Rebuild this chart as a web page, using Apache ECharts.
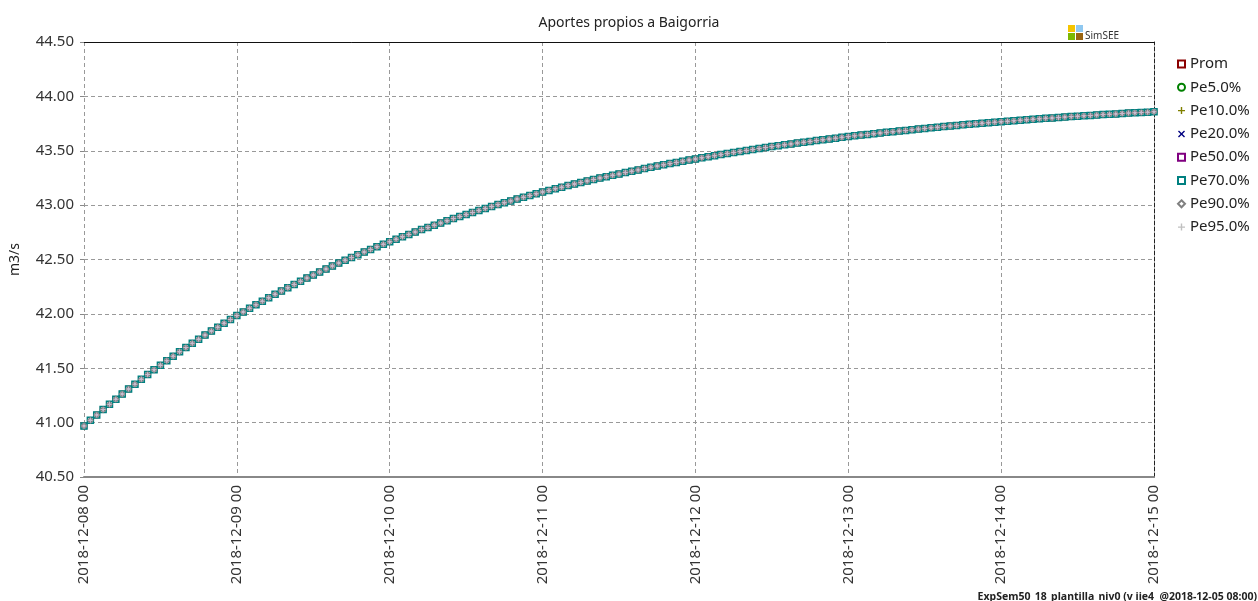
<!DOCTYPE html>
<html><head><meta charset="utf-8">
<script src="https://cdn.jsdelivr.net/npm/echarts@6/dist/echarts.min.js"></script>
<style>html,body{margin:0;padding:0;background:#fff}#c{width:1258px;height:601px}</style>
</head><body><div id="c"></div>
<script>
const chartTitle = 'Aportes propios a Baigorria';
const yAxisName = 'm3/s';
const footerText = 'ExpSem50_18_plantilla_niv0 (v iie4  @2018-12-05 08:00)';
const xTickLabels = ['2018-12-08 00','2018-12-09 00','2018-12-10 00','2018-12-11 00','2018-12-12 00','2018-12-13 00','2018-12-14 00','2018-12-15 00'];
const yTicks = [40.5, 41.0, 41.5, 42.0, 42.5, 43.0, 43.5, 44.0, 44.5];
const seriesNames = ['Prom','Pe5.0%','Pe10.0%','Pe20.0%','Pe50.0%','Pe70.0%','Pe90.0%','Pe95.0%'];
// hourly values (m3/s), 2018-12-08 00 .. 2018-12-15 00
const prom = [
40.970,41.021,41.071,41.120,41.168,41.216,
41.263,41.309,41.354,41.399,41.443,41.486,
41.528,41.570,41.611,41.651,41.690,41.729,
41.767,41.805,41.842,41.878,41.914,41.949,
41.984,42.018,42.052,42.085,42.117,42.149,
42.180,42.211,42.241,42.271,42.300,42.329,
42.358,42.386,42.413,42.440,42.467,42.493,
42.519,42.544,42.569,42.593,42.617,42.641,
42.664,42.687,42.709,42.731,42.753,42.775,
42.795,42.816,42.836,42.856,42.876,42.895,
42.914,42.933,42.951,42.969,42.987,43.005,
43.022,43.039,43.056,43.072,43.088,43.104,
43.120,43.135,43.150,43.165,43.180,43.194,
43.208,43.222,43.236,43.249,43.262,43.275,
43.287,43.300,43.312,43.324,43.336,43.348,
43.360,43.371,43.382,43.393,43.404,43.415,
43.425,43.435,43.445,43.455,43.465,43.475,
43.484,43.493,43.502,43.511,43.520,43.529,
43.538,43.546,43.555,43.563,43.571,43.579,
43.586,43.594,43.601,43.608,43.616,43.623,
43.630,43.637,43.644,43.650,43.657,43.663,
43.669,43.675,43.681,43.687,43.693,43.699,
43.705,43.711,43.716,43.722,43.727,43.732,
43.738,43.743,43.748,43.753,43.758,43.763,
43.767,43.772,43.776,43.781,43.785,43.789,
43.794,43.798,43.802,43.806,43.810,43.814,
43.818,43.822,43.825,43.829,43.833,43.836,
43.839,43.842,43.846,43.849,43.852,43.855,
43.859];
// all percentiles coincide with the mean in the picture
const pe5 = prom, pe10 = prom, pe20 = prom, pe50 = prom, pe70 = prom, pe90 = prom, pe95 = prom;
const seriesValues = [prom, pe5, pe10, pe20, pe50, pe70, pe90, pe95];

const PLUS = 'path://M4,0h2v4h4v2h-4v4h-2v-4h-4v-2h4z';
const CROSS = 'path://M1.4,0L5,3.6L8.6,0L10,1.4L6.4,5L10,8.6L8.6,10L5,6.4L1.4,10L0,8.6L3.6,5L0,1.4z';
const styles = [
  {color:'#8b0000', symbol:'rect', hollow:true, size:5},
  {color:'#008000', symbol:'circle', hollow:true, size:5},
  {color:'#808000', symbol:PLUS, hollow:false, size:6},
  {color:'#000080', symbol:CROSS, hollow:false, size:5},
  {color:'#800080', symbol:'rect', hollow:true, size:4},
  {color:'#008080', symbol:'rect', hollow:true, size:6},
  {color:'#808080', symbol:'diamond', hollow:true, size:5},
  {color:'#c8b8d0', symbol:PLUS, hollow:false, size:5}
];
const FONT = 'Noto Sans';

const series = seriesNames.map((name, k) => {
  const s = styles[k];
  return {
    name, type:'line',
    data: seriesValues[k].map((v, i) => [i, v]),
    symbol: s.symbol, symbolSize: s.size, showSymbol: true,
    lineStyle: {width: k === 5 ? 2 : 0, color: s.color},
    itemStyle: s.hollow ? {color:'#e0e8ec', borderColor:s.color, borderWidth:1.5} : {color:s.color, borderWidth:0},
    emphasis: {disabled:true},
    animation: false,
    xAxisIndex: 0, yAxisIndex: 0
  };
});

const legendColors = ['#8b0000','#008000','#808000','#000080','#800080','#008080','#808080','#c0c0c0'];

const chart = echarts.init(document.getElementById('c'), null, {renderer:'canvas'});
chart.setOption({
  animation:false,
  backgroundColor:'#ffffff',
  title:{text:chartTitle, left:'center', top:11, textStyle:{fontFamily:FONT, fontSize:14, fontWeight:'normal', color:'#222'}},
  grid:{left:84, right:104, top:42, bottom:124, containLabel:false},
  legend:{
    orient:'vertical', left:1172, top:50, itemWidth:7, itemHeight:7, itemGap:5.3,
    textStyle:{fontFamily:FONT, fontSize:15, color:'#222', lineHeight:18},
    data: seriesNames.map((name, k) => {
      const s = styles[k];
      const c = legendColors[k];
      return {name, icon: s.symbol,
        itemStyle: s.hollow ? {color:'#ffffff', borderColor:c, borderWidth:2} : {color:c, borderWidth:0}};
    })
  },
  xAxis:[{
    type:'value', min:0, max:168, interval:24,
    axisLine:{show:true, onZero:false, lineStyle:{color:'#888', width:2}},
    axisTick:{show:false},
    axisLabel:{rotate:90, margin:8, fontFamily:FONT, fontSize:15, color:'#333',
      formatter:(v)=> xTickLabels[Math.round(v/24)]},
    splitLine:{show:true, showMinLine:true, showMaxLine:false, lineStyle:{color:'#999', type:[4,3], width:1}}
  },{
    type:'value', min:0, max:168, position:'top',
    axisLine:{show:true, onZero:false, lineStyle:{color:'#111', width:1}},
    axisTick:{show:false}, axisLabel:{show:false}, splitLine:{show:false}
  }],
  yAxis:[{
    type:'value', min:yTicks[0], max:yTicks[yTicks.length-1], interval:0.5,
    name:yAxisName, nameLocation:'middle', nameGap:62, nameRotate:90,
    nameTextStyle:{fontFamily:FONT, fontSize:14, color:'#222'},
    axisLine:{show:false, onZero:false},
    axisTick:{show:true, length:4, lineStyle:{color:'#888'}},
    axisLabel:{fontFamily:FONT, fontSize:15, color:'#333', margin:10, formatter:(v)=>v.toFixed(2)},
    splitLine:{show:true, lineStyle:{color:'#999', type:[4,3], width:1}}
  },{
    type:'value', min:yTicks[0], max:yTicks[yTicks.length-1], position:'right',
    axisLine:{show:true, onZero:false, lineStyle:{color:'#222', width:1, type:[4,2]}},
    axisTick:{show:false}, axisLabel:{show:false}, splitLine:{show:false}
  }],
  series,
  graphic:[
    {type:'rect', left:1068, top:25, shape:{width:7, height:7}, style:{fill:'#f5c400'}, silent:true},
    {type:'rect', left:1076, top:25, shape:{width:7, height:7}, style:{fill:'#8fc8f0'}, silent:true},
    {type:'rect', left:1068, top:33, shape:{width:7, height:7}, style:{fill:'#7cb800'}, silent:true},
    {type:'rect', left:1076, top:33, shape:{width:7, height:7}, style:{fill:'#9a6410'}, silent:true},
    {type:'text', left:1085, top:31, style:{text:'SimSEE', font:'10px "Noto Sans"', fill:'#333'}, silent:true},
    {type:'text', right:1, bottom:-2, style:{text:footerText, font:'bold 10.5px "Noto Sans"', fill:'#222'}, silent:true}
  ]
});
</script></body></html>
